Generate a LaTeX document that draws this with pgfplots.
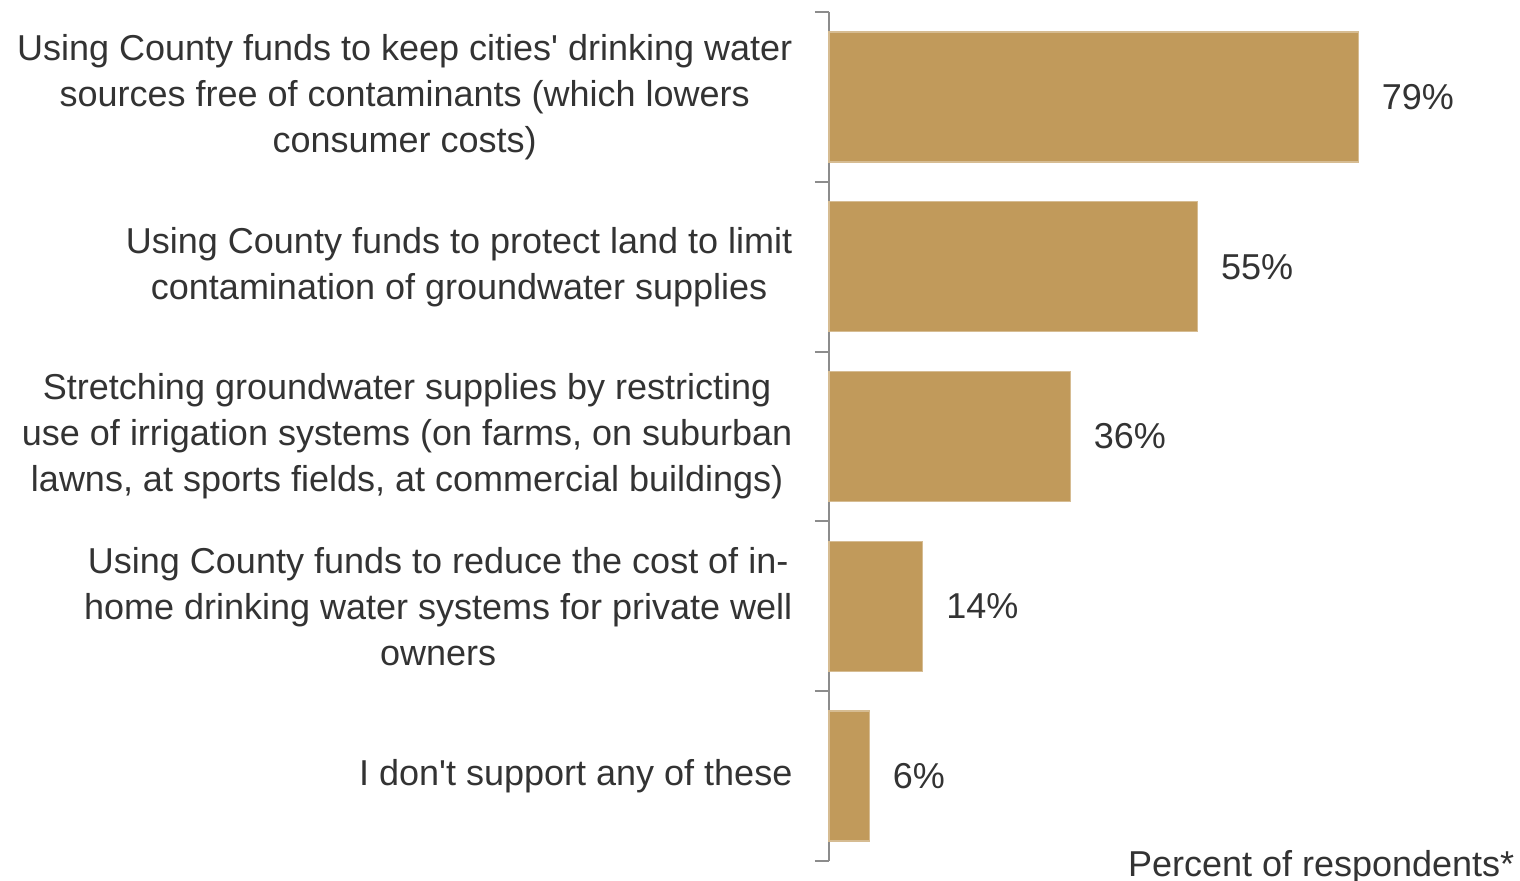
\documentclass[border=0pt]{standalone}
\usepackage{pgfplots}
\pgfplotsset{compat=1.18}
\usepackage{fontspec}
\setmainfont{Liberation Sans}[Ligatures=TeXOff]
\definecolor{barfill}{RGB}{193,154,91}
\definecolor{baredge}{RGB}{214,188,146}
\definecolor{axgray}{RGB}{140,140,140}
\definecolor{txt}{RGB}{51,51,51}
\begin{document}
\begin{tikzpicture}
\useasboundingbox (-248.7pt,-6pt) rectangle (207.3pt,258.3pt);
\begin{axis}[
  at={(0,0)}, anchor=south west,
  scale only axis,
  width=201pt, height=254.7pt,
  xbar, bar width=0.765,
  xmin=0, xmax=100,
  ymin=-0.5, ymax=4.5,
  y dir=reverse,
  axis x line=none,
  axis y line*=left,
  axis line style={axgray, line width=0.6pt},
  ytick={0,1,2,3,4},
  yticklabels={
    {Using County funds to keep cities' drinking water\\sources free of contaminants (which lowers\\consumer costs)},
    {Using County funds to protect land to limit\\contamination of groundwater supplies},
    {Stretching groundwater supplies by restricting\\use of irrigation systems (on farms, on suburban\\lawns, at sports fields, at commercial buildings)},
    {Using County funds to reduce the cost of in-\\home drinking water systems for private well\\owners},
    {I don't support any of these}},
  yticklabel style={align=center, font=\fontsize{10.8pt}{13.8pt}\selectfont, text=txt, inner sep=0pt, anchor=east, xshift=-10.8pt},
  major tick length=0pt,
  minor ytick={-0.5,0.5,1.5,2.5,3.5,4.5},
  minor tick length=4.2pt,
  tick align=outside,
  tick style={axgray, line width=0.6pt},
  /pgf/number format/assume math mode=true,
  nodes near coords={\pgfmathprintnumber{\pgfplotspointmeta}\%},
  point meta=explicit,
  every node near coord/.append style={anchor=west, inner sep=0pt, xshift=6.9pt, font=\fontsize{10.8pt}{13.8pt}\selectfont, text=txt},
  clip=false,
]
\addplot[fill=barfill, draw=baredge, line width=0.4pt] coordinates {
  (79,0) [79]
  (55,1) [55]
  (36,2) [36]
  (14,3) [14]
  (6,4) [6]
};
\node[anchor=base east, inner sep=0pt, xshift=4.8pt, yshift=-4.8pt, font=\fontsize{10.8pt}{13.8pt}\selectfont, text=txt] at (rel axis cs:1,0) {Percent of respondents*};
\end{axis}
\end{tikzpicture}
\end{document}
